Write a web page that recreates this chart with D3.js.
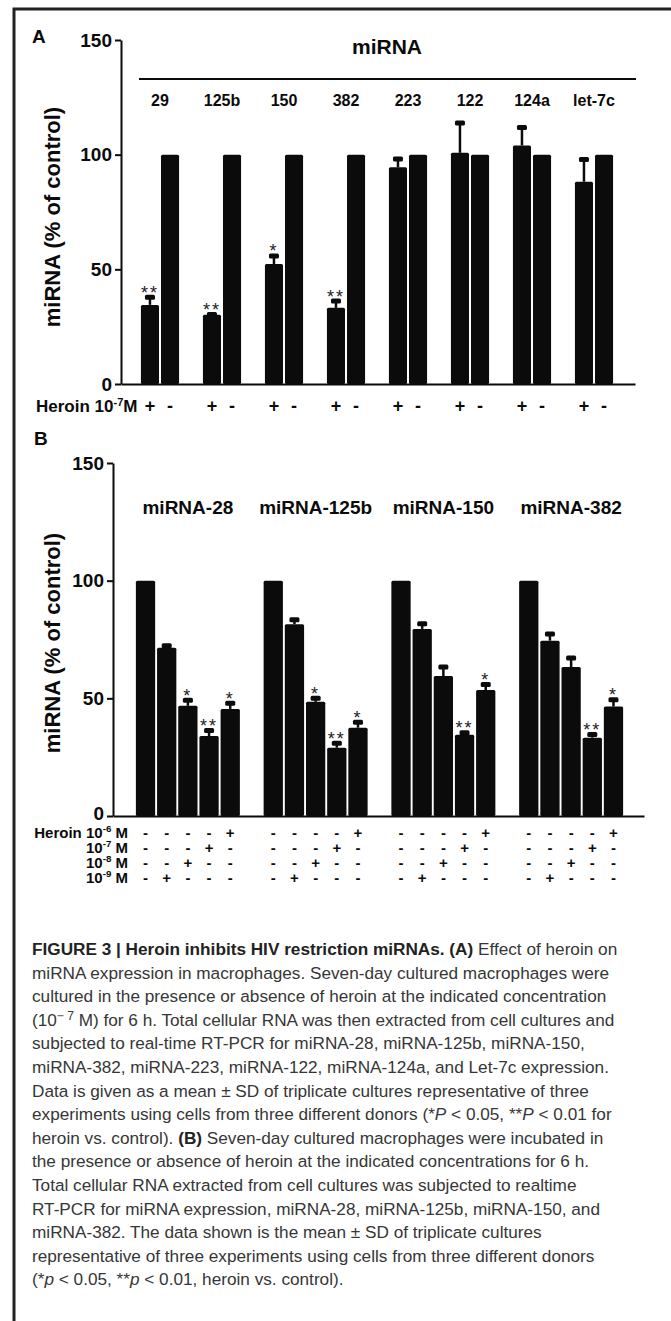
<!DOCTYPE html>
<html lang="en">
<head>
<meta charset="UTF-8">
<title>Figure 3</title>
<script src="https://d3js.org/d3.v7.min.js"></script>
<style>
  body { margin: 0; background: #fff; }
  svg { display: block; }
  text { font-family: "Liberation Sans", Arial, sans-serif; }
</style>
</head>
<body>
<svg width="671" height="1321"></svg>
<script>
// Panel A data: heroin 10^-7 M (+) vs control (-), control = 100 %
const groupsA = ["29", "125b", "150", "382", "223", "122", "124a", "let-7c"];
const heroinA = [34.5, 30.2, 52.3, 33.2, 94.5, 100.8, 104, 88.2];
const heroinSdA = [4, 0.8, 4.2, 3.6, 4.3, 13.7, 8.5, 10.3];
const controlA = [100, 100, 100, 100, 100, 100, 100, 100];
const sigA = ["**", "**", "*", "**", "", "", "", ""];

// Panel B data: 5 bars per miRNA (control, 10^-9, 10^-8, 10^-7, 10^-6 M)
const groupsB = ["miRNA-28", "miRNA-125b", "miRNA-150", "miRNA-382"];
const valuesB = [
  [100, 71.5, 46.8, 34, 45.5],
  [100, 81.5, 48.5, 29, 37.5],
  [100, 79.5, 59.5, 34.5, 53.5],
  [100, 74.5, 63.3, 33.3, 46.5]
];
const sdB = [
  [0, 1.5, 3, 3, 3],
  [0, 2.5, 2.2, 2.5, 3],
  [0, 2.8, 4.5, 1.5, 3],
  [0, 3.5, 4.5, 2, 3.5]
];
const sigB = [
  ["", "", "*", "**", "*"],
  ["", "", "*", "**", "*"],
  ["", "", "", "**", "*"],
  ["", "", "", "**", "*"]
];
const doseRows = ["10-6", "10-7", "10-8", "10-9"];
const barDose = ["ctrl", "10-9", "10-8", "10-7", "10-6"];
const yTicks = [0, 50, 100, 150];

const captionLines = [
  "{b}FIGURE 3 | Heroin inhibits HIV restriction miRNAs. (A){/b} Effect of heroin on",
  "miRNA expression in macrophages. Seven-day cultured macrophages were",
  "cultured in the presence or absence of heroin at the indicated concentration",
  "(10{sup}− 7{/sup} M) for 6 h. Total cellular RNA was then extracted from cell cultures and",
  "subjected to real-time RT-PCR for miRNA-28, miRNA-125b, miRNA-150,",
  "miRNA-382, miRNA-223, miRNA-122, miRNA-124a, and Let-7c expression.",
  "Data is given as a mean ± SD of triplicate cultures representative of three",
  "experiments using cells from three different donors (*{i}P{/i} < 0.05, **{i}P{/i} < 0.01 for",
  "heroin vs. control). {b}(B){/b} Seven-day cultured macrophages were incubated in",
  "the presence or absence of heroin at the indicated concentrations for 6 h.",
  "Total cellular RNA extracted from cell cultures was subjected to realtime",
  "RT-PCR for miRNA expression, miRNA-28, miRNA-125b, miRNA-150, and",
  "miRNA-382. The data shown is the mean ± SD of triplicate cultures",
  "representative of three experiments using cells from three different donors",
  "(*{i}p{/i} < 0.05, **{i}p{/i} < 0.01, heroin vs. control)."
];

const svg = d3.select("svg");
const ink = "#0b0b0b";

// frame (top and left edges of the figure box)
svg.append("path")
  .attr("d", "M14,1321V9H671")
  .attr("fill", "none")
  .attr("stroke", "#222")
  .attr("stroke-width", 3);

function styleAxis(g, size) {
  g.select(".domain").attr("stroke", ink).attr("stroke-width", 2);
  g.selectAll(".tick line").attr("stroke", ink).attr("stroke-width", 2);
  g.selectAll(".tick text")
    .attr("fill", ink)
    .style("font-size", size + "px")
    .style("font-weight", "bold")
    .style("font-family", "'Liberation Sans', Arial, sans-serif");
}

function errorBar(g, cx, yTop, yErr, label) {
  g.append("line")
    .attr("x1", cx).attr("x2", cx)
    .attr("y1", yTop).attr("y2", yErr)
    .attr("stroke", ink).attr("stroke-width", 2.5);
  g.append("rect")
    .attr("x", cx - 5).attr("y", yErr - 1)
    .attr("width", 10).attr("height", 5)
    .attr("rx", 1.5)
    .attr("fill", ink);
  if (label) {
    g.append("text")
      .attr("x", cx).attr("y", yErr + 3)
      .attr("text-anchor", "middle")
      .style("font-size", "18px")
      .style("letter-spacing", "2px")
      .attr("fill", "#222")
      .text(label);
  }
}

function yTitle(cx, cy) {
  svg.append("text")
    .attr("transform", `translate(${cx},${cy}) rotate(-90)`)
    .attr("text-anchor", "middle")
    .attr("dy", "0.35em")
    .style("font-size", "22px")
    .style("font-weight", "bold")
    .attr("fill", ink)
    .text("miRNA (% of control)");
}

function doseLabel(sel, pow, sep) {
  sel.append("tspan").text("10");
  sel.append("tspan").attr("dy", -6).style("font-size", "0.65em").text("-" + pow);
  sel.append("tspan").attr("dy", 6).text(sep + "M");
}

// ---------- Panel A ----------
const yA = d3.scaleLinear().domain([0, 150]).range([384, 40]);
const xA = d3.scaleBand().domain(groupsA).range([129, 625])
  .paddingInner(0.385).paddingOuter(0.1925);
const subA = d3.scaleBand().domain(["+", "-"]).range([0, xA.bandwidth()]).paddingInner(0.1);
const lineA = d3.scaleLinear().range([121, 635]);

svg.append("text").attr("x", 32).attr("y", 43)
  .style("font-size", "19px").style("font-weight", "bold").attr("fill", ink).text("A");

const axA = svg.append("g").attr("transform", "translate(121,0)")
  .call(d3.axisLeft(yA).tickValues(yTicks).tickSize(6).tickSizeOuter(0));
styleAxis(axA, 19);
const bxA = svg.append("g").attr("transform", "translate(0,384)")
  .call(d3.axisBottom(lineA).tickValues([]).tickSizeOuter(0));
styleAxis(bxA, 19);

yTitle(52, 217);

svg.append("text").attr("x", 387).attr("y", 54).attr("text-anchor", "middle")
  .style("font-size", "21px").style("font-weight", "bold").attr("fill", ink).text("miRNA");
svg.append("line")
  .attr("x1", xA.range()[0] + 10).attr("x2", 636)
  .attr("y1", 79).attr("y2", 79)
  .attr("stroke", ink).attr("stroke-width", 2);

const gA = svg.append("g");
groupsA.forEach((name, i) => {
  const x0 = xA(name);
  gA.append("text")
    .attr("x", x0 + xA.bandwidth() / 2).attr("y", 106)
    .attr("text-anchor", "middle")
    .style("font-size", "16px").style("font-weight", "bold").attr("fill", ink)
    .text(name);
  const vals = { "+": heroinA[i], "-": controlA[i] };
  ["+", "-"].forEach(k => {
    gA.append("rect")
      .attr("x", x0 + subA(k)).attr("width", subA.bandwidth())
      .attr("y", yA(vals[k])).attr("height", yA(0) - yA(vals[k]))
      .attr("rx", 1.5)
      .attr("fill", ink);
    gA.append("text")
      .attr("x", x0 + subA(k) + subA.bandwidth() / 2).attr("y", 412)
      .attr("text-anchor", "middle")
      .style("font-size", "18px").style("font-weight", "bold").attr("fill", ink)
      .text(k);
  });
  const cx = x0 + subA("+") + subA.bandwidth() / 2;
  errorBar(gA, cx, yA(heroinA[i]), yA(heroinA[i] + heroinSdA[i]), sigA[i]);
});

const heroinLblA = svg.append("text").attr("x", 36).attr("y", 412)
  .style("font-size", "17px").style("font-weight", "bold").attr("fill", ink);
heroinLblA.append("tspan").text("Heroin ");
doseLabel(heroinLblA, "7", "");

// ---------- Panel B ----------
const yB = d3.scaleLinear().domain([0, 150]).range([816, 463]);
const xB = d3.scaleBand().domain(groupsB).range([124, 635])
  .paddingInner(0.186).paddingOuter(0.093);
const subB = d3.scaleBand().domain(d3.range(5)).range([0, xB.bandwidth()]).paddingInner(0.09);
const lineB = d3.scaleLinear().range([113, 644]);
const rowY = d3.scalePoint().domain(doseRows).range([838, 883]);

svg.append("text").attr("x", 34).attr("y", 445)
  .style("font-size", "19px").style("font-weight", "bold").attr("fill", ink).text("B");

const axB = svg.append("g").attr("transform", "translate(113,0)")
  .call(d3.axisLeft(yB).tickValues(yTicks).tickSize(6).tickSizeOuter(0));
styleAxis(axB, 19);
const bxB = svg.append("g").attr("transform", "translate(0,816)")
  .call(d3.axisBottom(lineB).tickValues([]).tickSizeOuter(0));
styleAxis(bxB, 19);
axB.selectAll(".tick text").filter(d => d === 0).attr("dy", "0.2em");

yTitle(52, 643);

const gB = svg.append("g");
groupsB.forEach((name, i) => {
  const x0 = xB(name);
  gB.append("text")
    .attr("x", x0 + xB.bandwidth() / 2).attr("y", 514)
    .attr("text-anchor", "middle")
    .style("font-size", "19px").style("font-weight", "bold").attr("fill", ink)
    .text(name);
  valuesB[i].forEach((v, j) => {
    const bx = x0 + subB(j);
    const cx = bx + subB.bandwidth() / 2;
    gB.append("rect")
      .attr("x", bx).attr("width", subB.bandwidth())
      .attr("y", yB(v)).attr("height", yB(0) - yB(v))
      .attr("rx", 1.5)
      .attr("fill", ink);
    if (sdB[i][j] > 0) errorBar(gB, cx, yB(v), yB(v + sdB[i][j]), sigB[i][j]);
    doseRows.forEach(r => {
      gB.append("text")
        .attr("x", cx).attr("y", rowY(r))
        .attr("text-anchor", "middle")
        .style("font-size", "15px").style("font-weight", "bold").attr("fill", ink)
        .text(barDose[j] === r ? "+" : "-");
    });
  });
});

doseRows.forEach((r, k) => {
  const t = svg.append("text").attr("x", 128).attr("y", rowY(r))
    .attr("text-anchor", "end")
    .style("font-size", "15px").style("font-weight", "bold").attr("fill", ink);
  if (k === 0) t.append("tspan").text("Heroin ");
  doseLabel(t, r.split("-")[1], " ");
});

// ---------- Caption ----------
const cap = svg.append("g").attr("fill", "#363636");
const capTop = 955, capStep = 23.6, capSize = 17.2;
captionLines.forEach((line, i) => {
  const t = cap.append("text").attr("x", 32).attr("y", capTop + i * capStep)
    .style("font-size", capSize + "px");
  const parts = line.split(/(\{\/?(?:b|i|sup)\})/);
  let bold = false, ital = false, sup = false, raised = false;
  parts.forEach(p => {
    if (p === "{b}") bold = true;
    else if (p === "{/b}") bold = false;
    else if (p === "{i}") ital = true;
    else if (p === "{/i}") ital = false;
    else if (p === "{sup}") sup = true;
    else if (p === "{/sup}") sup = false;
    else if (p.length) {
      const s = t.append("tspan").text(p);
      if (bold) s.style("font-weight", "bold").attr("fill", "#222");
      if (ital) s.style("font-style", "italic");
      if (sup) { s.style("font-size", "0.7em").attr("dy", -6); raised = true; }
      else if (raised) { s.attr("dy", 6); raised = false; }
    }
  });
});
</script>
</body>
</html>
